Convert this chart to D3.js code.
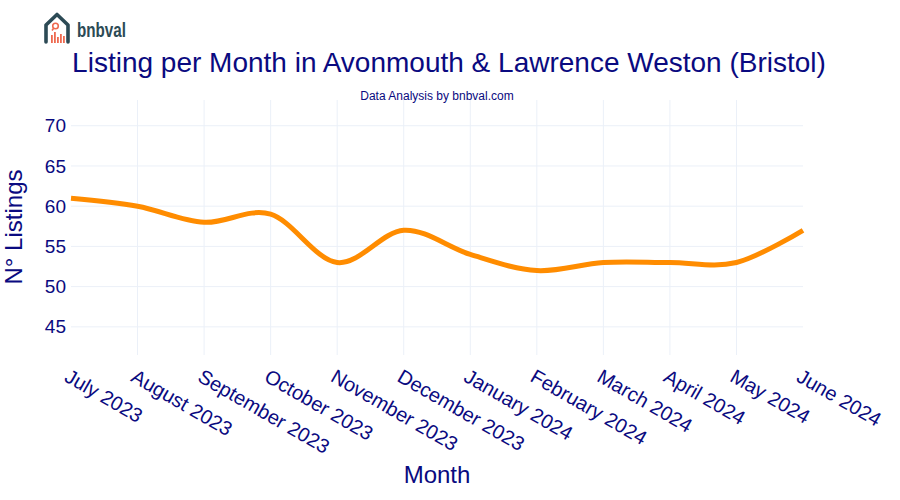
<!DOCTYPE html>
<html>
<head>
<meta charset="utf-8">
<script src="https://cdn.jsdelivr.net/npm/d3@7"></script>
<style>
html,body{margin:0;padding:0;background:#fff;}
svg{display:block;font-family:"Liberation Sans",Arial,sans-serif;}
</style>
</head>
<body>
<svg id="chart" width="900" height="500"></svg>
<script>
const months = ["July 2023","August 2023","September 2023","October 2023","November 2023","December 2023","January 2024","February 2024","March 2024","April 2024","May 2024","June 2024"];
const listings = [61,60,58,59,53,57,54,52,53,53,53,57];
const yTicks = [45,50,55,60,65,70];

const title = "Listing per Month in Avonmouth & Lawrence Weston (Bristol)";
const subtitle = "Data Analysis by bnbval.com";
const xTitle = "Month";
const yTitle = "N° Listings";

const navy = "#0a0a80";
const grid = "#ebf0f8";
const lineColor = "#ff8c00";

const svg = d3.select("#chart");
const m = {left:71, right:97, top:100, bottom:145};
const W = 900, H = 500;

const x = d3.scalePoint().domain(months).range([m.left, W - m.right]);
const y = d3.scaleLinear().domain([41.5, 73.2]).range([H - m.bottom, m.top]);

// grid (edge gridlines hidden, as in the reference)
const g = svg.append("g");
g.selectAll("line.vg").data(months.slice(1, -1)).join("line")
  .attr("x1", d => x(d)).attr("x2", d => x(d))
  .attr("y1", m.top).attr("y2", H - m.bottom)
  .attr("stroke", grid).attr("stroke-width", 1);
g.selectAll("line.hg").data(yTicks).join("line")
  .attr("x1", m.left).attr("x2", W - m.right)
  .attr("y1", d => y(d)).attr("y2", d => y(d))
  .attr("stroke", grid).attr("stroke-width", 1);

// y axis
const yAxis = svg.append("g").attr("transform", `translate(${m.left},0)`)
  .call(d3.axisLeft(y).tickValues(yTicks).tickSize(0).tickPadding(5));
yAxis.select(".domain").remove();
yAxis.selectAll("text").attr("fill", navy).attr("font-size", 19)
  .attr("font-family", '"Liberation Sans",Arial,sans-serif');

// x axis
const xAxis = svg.append("g").attr("transform", `translate(0,${H - m.bottom})`)
  .call(d3.axisBottom(x).tickSize(0).tickPadding(0));
xAxis.select(".domain").remove();
xAxis.selectAll("text")
  .attr("fill", navy).attr("font-size", 20)
  .attr("font-family", '"Liberation Sans",Arial,sans-serif')
  .attr("text-anchor", "start")
  .attr("dy", null).attr("y", null)
  .attr("transform", "translate(-1,13) rotate(30)")
  .attr("dominant-baseline", "hanging");

// line
const line = d3.line()
  .x((d, i) => x(months[i]))
  .y(d => y(d))
  .curve(d3.curveCardinal.tension(0));
svg.append("path").datum(listings)
  .attr("d", line)
  .attr("fill", "none")
  .attr("stroke", lineColor)
  .attr("stroke-width", 5)
  .attr("stroke-linejoin", "round")
  .attr("stroke-linecap", "butt");

// titles
svg.append("text").attr("x", 449).attr("y", 72).attr("text-anchor", "middle")
  .attr("fill", navy).attr("font-size", 28).text(title);
svg.append("text").attr("x", 437).attr("y", 100).attr("text-anchor", "middle")
  .attr("fill", navy).attr("font-size", 12).text(subtitle);
svg.append("text").attr("x", 437).attr("y", 483).attr("text-anchor", "middle")
  .attr("fill", navy).attr("font-size", 24).text(xTitle);
svg.append("text").attr("transform", "translate(22,227) rotate(-90)").attr("text-anchor", "middle")
  .attr("fill", navy).attr("font-size", 24).text(yTitle);

// logo
const logo = svg.append("g").attr("transform", "translate(44,13)");
logo.append("path")
  .attr("d", "M2,29 L2,12 L13,1.5 L24,12 L24,29")
  .attr("fill", "none").attr("stroke", "#2c4a55").attr("stroke-width", 3.6)
  .attr("stroke-linejoin", "round").attr("stroke-linecap", "round");
logo.append("circle").attr("cx", 11.5).attr("cy", 13).attr("r", 2.8)
  .attr("fill", "none").attr("stroke", "#ee6a50").attr("stroke-width", 1.6);
logo.append("line").attr("x1", 9.5).attr("y1", 15.5).attr("x2", 8).attr("y2", 17.5)
  .attr("stroke", "#ee6a50").attr("stroke-width", 1.6);
[[7,22,8],[10,19,11],[13,24,6],[16,21,9],[19,23,7]].forEach(b => {
  logo.append("rect").attr("x", b[0]).attr("y", b[1]).attr("width", 1.8).attr("height", b[2])
    .attr("fill", "#ee6a50");
});
svg.append("text").attr("x", 77).attr("y", 37).attr("fill", "#2c4a55")
  .attr("font-size", 20).attr("font-weight", "bold")
  .attr("textLength", 49).attr("lengthAdjust", "spacingAndGlyphs")
  .attr("font-family", '"Liberation Sans",Arial,sans-serif').text("bnbval");
</script>
</body>
</html>
